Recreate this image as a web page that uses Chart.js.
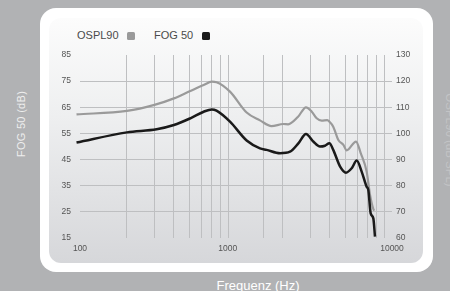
<!DOCTYPE html>
<html>
<head>
<meta charset="utf-8">
<script src="https://cdn.jsdelivr.net/npm/chart.js@4/dist/chart.umd.min.js"></script>
<style>
  html, body { margin: 0; padding: 0; }
  body { width: 450px; height: 291px; background: #b1b2b4; position: relative; overflow: hidden;
         font-family: "Liberation Sans", Arial, Helvetica, sans-serif; }
  .card { position: absolute; left: 40px; top: 8px; width: 393px; height: 264px; background: #ffffff; border-radius: 16px; }
  .inner { position: absolute; left: 49px; top: 18px; width: 374px; height: 245px; border-radius: 12px;
           background: linear-gradient(to bottom, #fcfcfc 0%, #eeeff0 40%, #d6d7da 100%); }
  canvas { position: absolute; left: 0; top: 0; }
  .leg { position: absolute; top: 29px; font-size: 11px; color: #4a4a4a; line-height: 13px; white-space: nowrap; }
  .sw { position: absolute; top: 32px; width: 8px; height: 8px; border-radius: 1.5px; }
  .ytitle { position: absolute; left: 21px; top: 124px; transform: translate(-50%, -50%) rotate(-90deg);
            font-size: 11px; color: #eeeeee; white-space: nowrap; letter-spacing: 0.3px; }
  .ytitle2 { position: absolute; left: 450px; top: 140px; transform: translate(-50%, -50%) rotate(90deg);
            font-size: 11.5px; color: #c3c4c6; white-space: nowrap; }
  .xtitle { position: absolute; left: 258px; top: 285px; transform: translate(-50%, -50%);
            font-size: 13px; color: #ffffff; white-space: nowrap; }
</style>
</head>
<body>
<div class="card"></div>
<div class="inner"></div>
<div class="leg" style="left:77px">OSPL90</div>
<div class="sw" style="left:127px;background:#9a9a9a"></div>
<div class="leg" style="left:154px">FOG 50</div>
<div class="sw" style="left:202px;background:#1a1a1a"></div>
<div class="ytitle">FOG 50 (dB)</div>
<div class="ytitle2">OSPL90 (dB SPL)</div>
<div class="xtitle">Frequenz (Hz)</div>
<canvas id="c" width="450" height="291"></canvas>
<script>
// ---- data ----
const osplFreq = [95, 200, 300, 400, 500, 620, 700, 750, 915, 1170, 1425, 1690, 2010, 2160, 2500, 2810, 3060, 3290, 3540, 3850, 3970, 4200, 4530, 4880, 5120, 5880, 6300, 6880, 7230, 7600, 7700];
const osplValues = [107.3, 108.6, 110.9, 113.4, 116.0, 118.5, 119.8, 119.6, 116.0, 108.0, 105.0, 102.8, 103.6, 103.5, 106.4, 110.0, 108.3, 105.8, 104.9, 105.1, 104.5, 102.6, 97.5, 95.6, 93.5, 96.9, 92.5, 85.4, 76.5, 71.0, 70.5];
const fogFreq = [95, 200, 310, 400, 510, 620, 700, 750, 915, 1170, 1425, 1570, 1915, 2220, 2510, 2810, 3130, 3455, 3720, 3970, 4200, 4650, 5070, 5520, 5940, 6390, 6880, 7050, 7300, 7590, 7780];
const fogValues = [51.5, 55.4, 56.6, 58.2, 60.8, 63.3, 64.2, 63.7, 59.5, 52.3, 49.3, 48.7, 47.4, 48.0, 51.2, 54.8, 51.9, 50.0, 50.3, 51.2, 48.7, 42.3, 40.0, 41.7, 44.6, 40.4, 34.6, 33.4, 24.4, 22.5, 15.5];
const xTickLabels = [100, 1000, 10000];
const leftTicks = [15, 25, 35, 45, 55, 65, 75, 85];
const rightTicks = [60, 70, 80, 90, 100, 110, 120, 130];

const toPts = (xs, ys) => xs.map((x, i) => ({ x: x, y: ys[i] }));
const FONT = { family: '"Liberation Sans", Arial, Helvetica, sans-serif', size: 8.5 };
const GRID = '#bebfc1';

new Chart(document.getElementById('c'), {
  type: 'line',
  data: {
    datasets: [
      { label: 'OSPL90', data: toPts(osplFreq, osplValues), yAxisID: 'y2', borderColor: '#9a9a9a', borderWidth: 2.2,
        pointRadius: 0, cubicInterpolationMode: 'monotone', clip: false, order: 2 },
      { label: 'FOG 50', data: toPts(fogFreq, fogValues), yAxisID: 'y', borderColor: '#1a1a1a', borderWidth: 2.5,
        pointRadius: 0, cubicInterpolationMode: 'monotone', clip: false, order: 1 }
    ]
  },
  options: {
    responsive: false,
    animation: false,
    layout: { padding: { top: 55, left: 0, right: 0, bottom: 0 } },
    plugins: { legend: { display: false }, tooltip: { enabled: false } },
    scales: {
      x: {
        type: 'logarithmic', min: 100, max: 10000,
        afterFit: s => { s.height = 53; },
        border: { display: false },
        grid: {
          drawTicks: false,
          color: ctx => {
            const v = ctx.tick ? ctx.tick.value : 0;
            return (v === 100 || v === 1000 || v === 10000) ? 'rgba(0,0,0,0)' : GRID;
          }
        },
        ticks: {
          autoSkip: false, maxRotation: 0, padding: 6, color: '#555555', font: FONT,
          callback: v => {
            if (!xTickLabels.includes(v)) return '';
            // the reference places the 1000 label a little left of its gridline position
            return v === 1000 ? String(v) + '       ' : String(v);
          }
        }
      },
      y: {
        position: 'left', min: 15, max: 85,
        afterFit: s => { s.width = 80; },
        afterBuildTicks: s => { s.ticks = leftTicks.map(v => ({ value: v })); },
        border: { display: false },
        grid: {
          drawTicks: false,
          color: ctx => (ctx.tick && (ctx.tick.value === 15 || ctx.tick.value === 85)) ? 'rgba(0,0,0,0)' : GRID
        },
        ticks: { padding: 9, color: '#555555', font: FONT }
      },
      y2: {
        position: 'right', min: 60, max: 130,
        afterFit: s => { s.width = 58; },
        afterBuildTicks: s => { s.ticks = rightTicks.map(v => ({ value: v })); },
        border: { display: false },
        grid: { drawTicks: false, drawOnChartArea: false },
        ticks: { padding: 4, color: '#555555', font: FONT }
      }
    }
  }
});
</script>
</body>
</html>
